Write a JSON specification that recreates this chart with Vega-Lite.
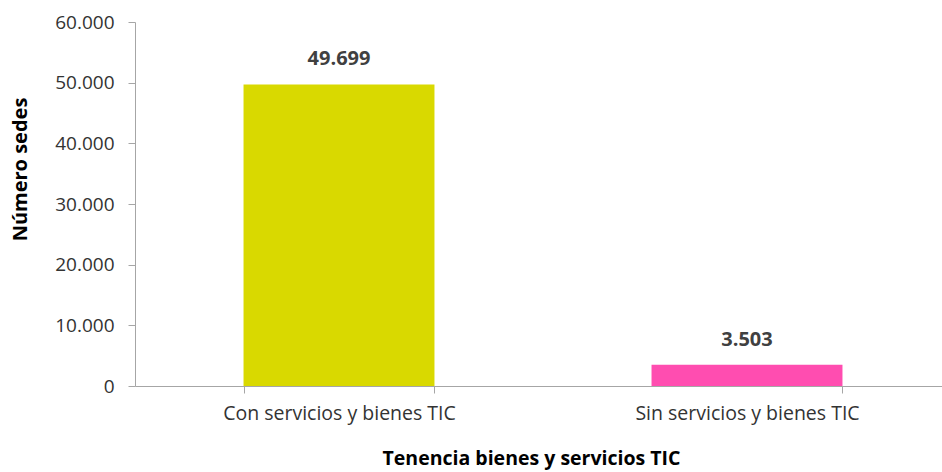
{
  "$schema": "https://vega.github.io/schema/vega-lite/v6.json",
  "autosize": "none",
  "width": 807,
  "height": 364,
  "padding": {"left": 135, "top": 22, "right": 0, "bottom": 86},
  "background": "white",
  "config": {"view": {"stroke": null}, "font": "Open Sans"},
  "data": {"values": [
    {"cat": "Con servicios y bienes TIC", "value": 49699, "label": "49.699"},
    {"cat": "Sin servicios y bienes TIC", "value": 3503, "label": "3.503"}
  ]},
  "encoding": {
    "x": {"field": "cat", "type": "nominal", "sort": null,
      "scale": {"range": [0, 816], "paddingInner": 0.532, "paddingOuter": 0.266},
      "axis": {"title": "Tenencia bienes y servicios TIC", "labelAngle": 0, "labelFontSize": 19.5, "labelLimit": 0, "labelColor": "#333333", "labelPadding": 11, "tickBand": "extent", "tickSize": 7, "tickColor": "#a6a6a6", "domainColor": "#a6a6a6", "titleFontSize": 19.5, "titleFontWeight": "bold", "titleColor": "#000000", "titlePadding": 27, "titleX": 396}},
    "y": {"field": "value", "type": "quantitative",
      "scale": {"domain": [0, 60000]},
      "axis": {"title": "Número sedes", "values": [0, 10000, 20000, 30000, 40000, 50000, 60000], "labelExpr": "replace(format(datum.value, ','), ',', '.')", "grid": false, "labelFontSize": 19, "labelColor": "#333333", "labelPadding": 14, "tickSize": 7, "tickColor": "#a6a6a6", "domainColor": "#a6a6a6", "titleFontSize": 20, "titleFontWeight": "bold", "titleColor": "#000000", "titlePadding": 24, "titleY": 147}}
  },
  "layer": [
    {"mark": {"type": "bar"},
     "encoding": {"color": {"field": "cat", "type": "nominal", "legend": null, "scale": {"range": ["#D9D900", "#FF4DB0"]}}}},
    {"mark": {"type": "text", "dy": -25, "fontSize": 20, "fontWeight": "bold", "color": "#404040"},
     "encoding": {"text": {"field": "label"}}}
  ]
}
